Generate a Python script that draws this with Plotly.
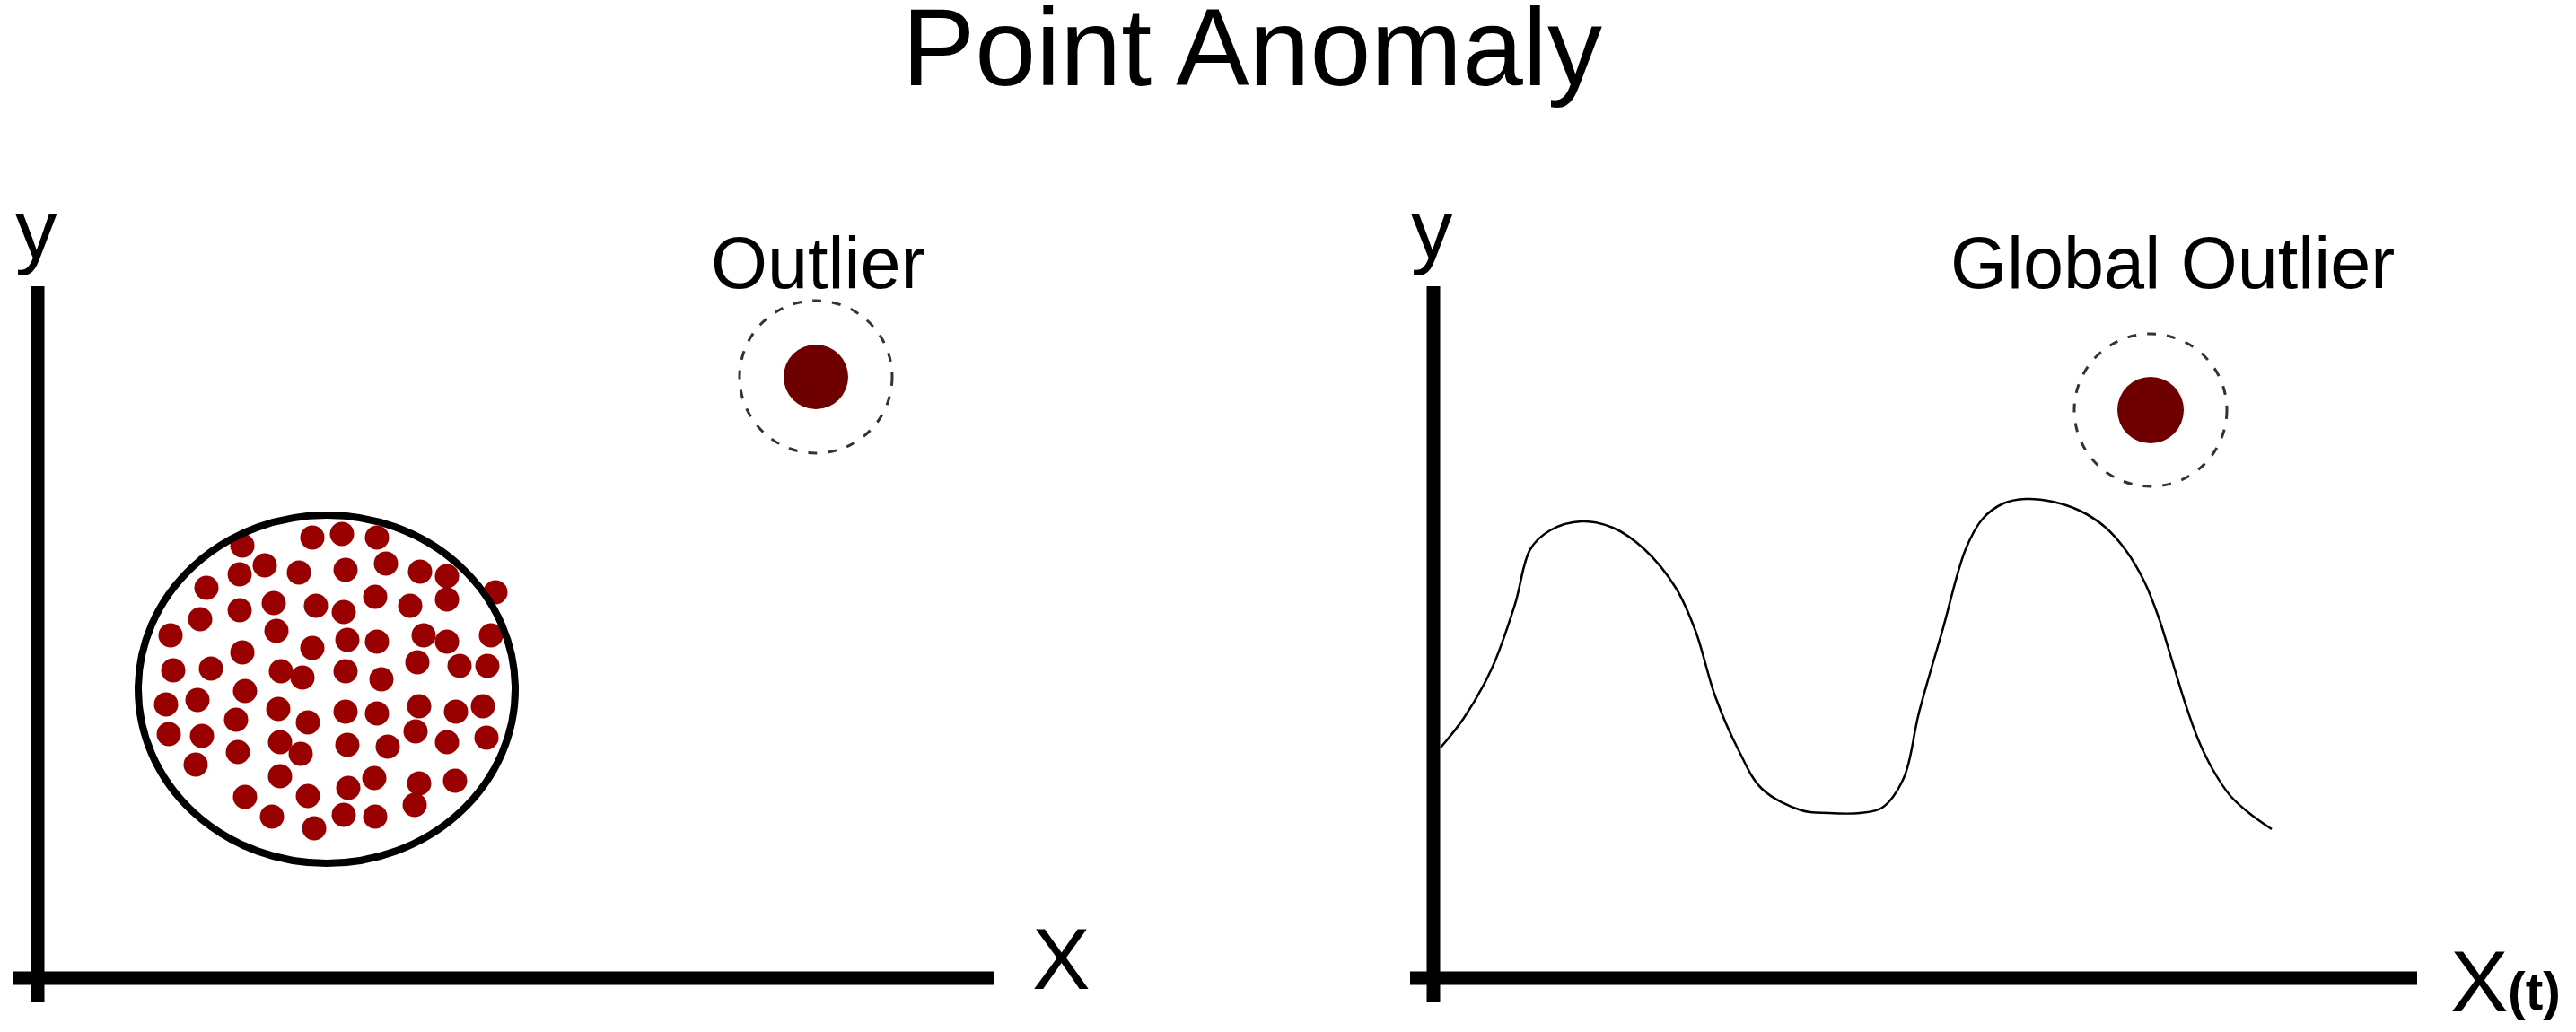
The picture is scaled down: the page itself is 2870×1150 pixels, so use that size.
"""Point anomaly diagram: clustered points vs. outlier, and a time series with a global outlier."""

import plotly.graph_objects as go

FONT = "Arial, 'Liberation Sans', sans-serif"
DOT_RED = "#990000"
OUTLIER_RED = "#6e0000"

TITLE = "Point Anomaly"

# left panel: cluster of normal points (units from the axis corner, y up)
cluster_x = [228, 306, 339, 378, 253, 225, 291, 343, 388, 426, 456, 510,
             188, 263, 310, 341, 376, 415, 456, 225, 181, 148, 266, 306,
             345, 378, 430, 456, 505, 228, 151, 193, 271, 295, 343, 383,
             423, 470, 501, 231, 143, 178, 268, 221, 301, 343, 378, 425,
             466, 496, 146, 183, 270, 223, 293, 345, 390, 421, 456, 500,
             176, 270, 231, 301, 346, 375, 425, 465, 261, 308, 341, 376, 420]
cluster_y = [482, 491, 495, 491, 460, 450, 452, 455, 462, 453, 448, 430,
             435, 418, 415, 408, 425, 415, 422, 410, 400, 382, 387, 368,
             377, 375, 382, 375, 382, 363, 343, 345, 342, 335, 342, 333,
             352, 348, 348, 320, 305, 310, 300, 288, 285, 297, 295, 303,
             297, 303, 272, 270, 263, 252, 250, 260, 258, 275, 263, 268,
             238, 225, 202, 203, 212, 223, 217, 220, 180, 167, 182, 180, 193]
cluster_box = [112, 532, 128, 516]          # x0, x1, y0, y1 of the drawn ellipse
left_outlier = [867, 670]
left_axes = [-27, 1066, -27, 771]            # x start, x end, y start, y end

# right panel: time series (units from the axis corner, y up)
series_t = [8, 34, 65, 91, 108, 130, 165, 200, 235, 270, 292, 314, 340, 366,
            410, 440, 475, 500, 524, 541, 567, 593, 612, 635, 660, 690, 720,
            748, 772, 792, 808, 822, 838, 852, 868, 888, 910, 934]
series_y = [257, 290, 345, 417, 478, 499, 509, 502, 478, 435, 387, 314, 254,
            211, 187, 184, 184, 190, 223, 296, 387, 478, 512, 529, 534, 531,
            521, 503, 476, 442, 402, 357, 305, 266, 233, 203, 183, 166]
right_outlier = [799, 633]
right_axes = [-26, 1096, -27, 771]

RING_R = 85

fig = go.Figure()

fig.add_trace(go.Scatter(
    x=cluster_x, y=cluster_y, mode="markers",
    marker=dict(size=27, color=DOT_RED, line=dict(width=0)),
    xaxis="x", yaxis="y", hoverinfo="skip", showlegend=False,
))
fig.add_trace(go.Scatter(
    x=[left_outlier[0]], y=[left_outlier[1]], mode="markers",
    marker=dict(size=72, color=OUTLIER_RED, line=dict(width=0)),
    xaxis="x", yaxis="y", hoverinfo="skip", showlegend=False,
))
fig.add_trace(go.Scatter(
    x=series_t, y=series_y, mode="lines",
    line=dict(color="black", width=2.5, shape="spline", smoothing=1),
    xaxis="x2", yaxis="y2", hoverinfo="skip", showlegend=False,
))
fig.add_trace(go.Scatter(
    x=[right_outlier[0]], y=[right_outlier[1]], mode="markers",
    marker=dict(size=74, color=OUTLIER_RED, line=dict(width=0)),
    xaxis="x2", yaxis="y2", hoverinfo="skip", showlegend=False,
))

shapes = []
# axis lines that cross at the corner
for xr, yr, ax in (("x", "y", left_axes), ("x2", "y2", right_axes)):
    shapes.append(dict(type="line", xref=xr, yref=yr, x0=ax[0], x1=ax[1], y0=0, y1=0,
                       line=dict(color="black", width=15)))
    shapes.append(dict(type="line", xref=xr, yref=yr, x0=0, x1=0, y0=ax[2], y1=ax[3],
                       line=dict(color="black", width=15)))
# cluster outline
shapes.append(dict(type="circle", xref="x", yref="y",
                   x0=cluster_box[0], x1=cluster_box[1], y0=cluster_box[2], y1=cluster_box[3],
                   line=dict(color="black", width=8)))
# dashed rings round the outliers
for xr, yr, pt in (("x", "y", left_outlier), ("x2", "y2", right_outlier)):
    shapes.append(dict(type="circle", xref=xr, yref=yr,
                       x0=pt[0] - RING_R, x1=pt[0] + RING_R, y0=pt[1] - RING_R, y1=pt[1] + RING_R,
                       line=dict(color="#333333", width=3, dash="10px,12px")))

annotations = [
    dict(xref="x", yref="y", x=-2, y=834, text="y", font=dict(size=93)),
    dict(xref="x", yref="y", x=1140, y=22, text="X", font=dict(size=97)),
    dict(xref="x", yref="y", x=869, y=797, text="Outlier", font=dict(size=81)),
    dict(xref="x2", yref="y2", x=-2, y=834, text="y", font=dict(size=93)),
    dict(xref="x2", yref="y2", x=1165, y=-3, text="X", font=dict(size=97)),
    dict(xref="x2", yref="y2", x=1226, y=-15, text="<b>(t)</b>", font=dict(size=59)),
    dict(xref="x2", yref="y2", x=823, y=797, text="Global Outlier", font=dict(size=81)),
    dict(xref="paper", yref="paper", x=0.4861, y=0.9539, text=TITLE, font=dict(size=122)),
]
for a in annotations:
    a.update(showarrow=False, xanchor="center", yanchor="middle")
    a["font"].update(family=FONT, color="black")

hidden = dict(visible=False, showgrid=False, zeroline=False, fixedrange=True)
fig.update_layout(
    width=2870, height=1150, autosize=False,
    margin=dict(l=0, r=0, t=0, b=0),
    paper_bgcolor="white", plot_bgcolor="white",
    font=dict(family=FONT, color="black"),
    xaxis=dict(domain=[0, 0.5], range=[-42, 1393], anchor="y", **hidden),
    yaxis=dict(domain=[0, 1], range=[-60, 1090], anchor="x", **hidden),
    xaxis2=dict(domain=[0.5, 1], range=[-162, 1273], anchor="y2", **hidden),
    yaxis2=dict(domain=[0, 1], range=[-60, 1090], anchor="x2", **hidden),
    shapes=shapes,
    annotations=annotations,
    showlegend=False,
)

# drop the browser's default body margin so the figure sits at the page corner
fig.write_html("out.html", config={"displayModeBar": False},
               post_script="document.body.style.margin = '0';")
